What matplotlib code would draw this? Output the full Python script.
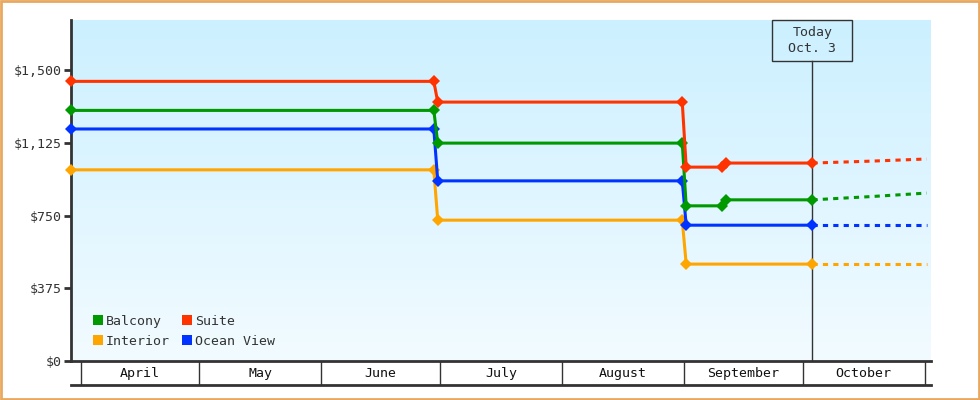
import datetime as dt
import numpy as np
import matplotlib
matplotlib.use("Agg")
import matplotlib.pyplot as plt
import matplotlib.dates as mdates
from matplotlib.patches import Rectangle
from matplotlib.lines import Line2D

# ---------------- data ----------------
year = 2023
suite_dates = ["03-29", "06-29", "06-30", "08-31", "09-01", "09-10", "09-11", "10-03"]
suite_vals = [1443, 1443, 1336, 1336, 1000, 1000, 1021, 1021]
suite_fc_dates = ["10-03", "10-18", "11-01"]
suite_fc_vals = [1021, 1031, 1042]

balcony_dates = ["03-29", "06-29", "06-30", "08-31", "09-01", "09-10", "09-11", "10-03"]
balcony_vals = [1293, 1293, 1124, 1124, 800, 800, 831, 831]
balcony_fc_dates = ["10-03", "10-18", "11-01"]
balcony_fc_vals = [831, 848, 866]

ocean_dates = ["03-29", "06-29", "06-30", "08-31", "09-01", "10-03"]
ocean_vals = [1197, 1197, 929, 929, 700, 700]
ocean_fc_dates = ["10-03", "11-01"]
ocean_fc_vals = [700, 700]

interior_dates = ["03-29", "06-29", "06-30", "08-31", "09-01", "10-03"]
interior_vals = [986, 986, 726, 726, 499, 499]
interior_fc_dates = ["10-03", "11-01"]
interior_fc_vals = [499, 499]

months = ["April", "May", "June", "July", "August", "September", "October"]
month_starts = ["04-01", "05-01", "06-01", "07-01", "08-01", "09-01", "10-01", "11-01"]
yticks = [0, 375, 750, 1125, 1500]
today_label = "Today\nOct. 3"
today_date = "10-03"

colors = {"Balcony": "#009900", "Suite": "#ff3300",
          "Interior": "#ffa500", "Ocean View": "#0033ff"}

# ---------------- helpers ----------------
def d(s, noon=True):
    m, dd = s.split("-")
    t = dt.datetime(year, int(m), int(dd), 12 if noon else 0)
    return mdates.date2num(t)

FONT = "DejaVu Sans Mono"
DARK = "#333333"

W, H = 980, 400
fig = plt.figure(figsize=(W / 100, H / 100), dpi=100)

L, R, T, B = 71, 930.7, 20, 360.7
ax = fig.add_axes([L / W, 1 - B / H, (R - L) / W, (B - T) / H])

xmin = d("03-29")
xmax = d("11-02")
ax.set_xlim(xmin, xmax)
ax.set_ylim(0, 1760)

# gradient background
grad = np.linspace(0, 1, 256).reshape(-1, 1)
top = np.array([204, 240, 255]) / 255
bot = np.array([242, 251, 255]) / 255
img = top[None, None, :] * (1 - grad[:, :, None]) + bot[None, None, :] * grad[:, :, None]
ax.imshow(img, extent=[0, 1, 0, 1], transform=ax.transAxes, aspect="auto", zorder=0)

# spines
for s in ["top", "right"]:
    ax.spines[s].set_visible(False)
ax.spines["left"].set_color(DARK)
ax.spines["left"].set_linewidth(2)
ax.spines["bottom"].set_color(DARK)
ax.spines["bottom"].set_linewidth(2)
ax.spines["left"].set_zorder(1)

ax.set_yticks(yticks)
ax.set_yticklabels(["${:,}".format(v) for v in yticks], fontfamily=FONT, fontsize=9.5, color=DARK)
ax.tick_params(axis="y", length=5, width=2, color=DARK, pad=2)
ax.set_xticks([])

# today line and box
today = d(today_date)
tfrac = (today - xmin) / (xmax - xmin)
box_h = (60.7 - 20) / (B - T)
ax.axvline(today, ymin=0, ymax=1 - box_h, color=DARK, lw=1, zorder=2)
box_w = 80 / (R - L)
ax.add_patch(Rectangle((tfrac - box_w / 2, 1 - box_h), box_w, box_h, transform=ax.transAxes,
                       facecolor="none", edgecolor=DARK, lw=1, zorder=5, clip_on=False))
ax.text(tfrac, 1 - box_h / 2, today_label, transform=ax.transAxes, ha="center", va="center",
        fontfamily=FONT, fontsize=9.5, color=DARK, linespacing=1.35, zorder=6)

# series
series = [
    ("Interior", interior_dates, interior_vals, interior_fc_dates, interior_fc_vals),
    ("Ocean View", ocean_dates, ocean_vals, ocean_fc_dates, ocean_fc_vals),
    ("Balcony", balcony_dates, balcony_vals, balcony_fc_dates, balcony_fc_vals),
    ("Suite", suite_dates, suite_vals, suite_fc_dates, suite_fc_vals),
]
for name, ds, vs, fds, fvs in series:
    c = colors[name]
    ax.plot([d(x) for x in fds], fvs, color=c, lw=2.2, ls=(0, (1.7, 1.7)),
            dash_capstyle="butt", zorder=3, clip_on=False)
    ax.plot([d(x) for x in ds], vs, color=c, lw=2.2, marker="D", markersize=6.5,
            markeredgewidth=0, zorder=4, clip_on=False)

# legend
handles = [Line2D([], [], ls="none", marker="s", markersize=7.5, markeredgewidth=0,
                  color=colors[n]) for n in ["Balcony", "Interior", "Suite", "Ocean View"]]
leg = ax.legend(handles, ["Balcony", "Interior", "Suite", "Ocean View"], ncol=2,
                loc="lower left", bbox_to_anchor=(22 / (R - L), 13 / (B - T)),
                frameon=False, handlelength=0.7, handletextpad=0.25, columnspacing=0.97,
                labelspacing=0.5, borderaxespad=0, borderpad=0,
                prop={"family": FONT, "size": 9.5})
for t in leg.get_texts():
    t.set_color(DARK)

# month boxes axis
MB = 385
ax2 = fig.add_axes([L / W, 1 - MB / H, (R - L) / W, (MB - B) / H], sharex=ax)
ax2.patch.set_alpha(0)
for s in ["top", "right", "left"]:
    ax2.spines[s].set_visible(False)
ax2.spines["bottom"].set_color(DARK)
ax2.spines["bottom"].set_linewidth(2)
ax2.set_ylim(0, 1)
ax2.set_yticks([])
ax2.tick_params(axis="x", bottom=False, labelbottom=False)
for ms in month_starts:
    ax2.axvline(d(ms, noon=False), color=DARK, lw=1)
for i, m in enumerate(months):
    mid = (d(month_starts[i], noon=False) + d(month_starts[i + 1], noon=False)) / 2
    ax2.text(mid, 0.47, m, ha="center", va="center", fontfamily=FONT, fontsize=9.5, color="#111111")

# figure border
fig.patches.append(Rectangle((0.001, 0.0015), 0.998, 0.997, transform=fig.transFigure,
                             fill=False, edgecolor="#e8a860", lw=2))

fig.savefig("out.png", dpi=100)
